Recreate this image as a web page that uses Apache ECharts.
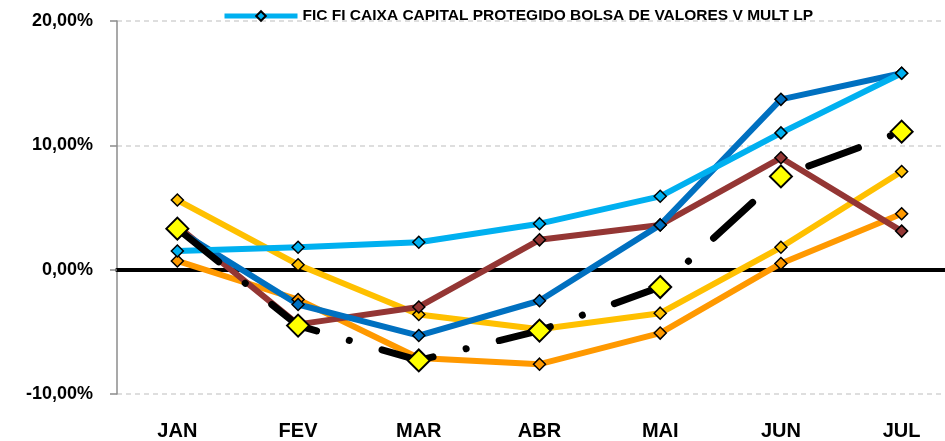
<!DOCTYPE html>
<html>
<head>
<meta charset="utf-8">
<script src="https://cdn.jsdelivr.net/npm/echarts@6/dist/echarts.min.js"></script>
<style>
  html, body { margin: 0; padding: 0; background: #fff; }
  #main { width: 945px; height: 441px; }
</style>
</head>
<body>
<div id="main"></div>
<script>
// monthly returns (%)
const months = ["JAN", "FEV", "MAR", "ABR", "MAI", "JUN", "JUL"];
const fundName = "FIC FI CAIXA CAPITAL PROTEGIDO BOLSA DE VALORES V MULT LP";
const fundValues = [1.5, 1.8, 2.2, 3.7, 5.9, 11.0, 15.8];
const darkBlueValues = [3.2, -2.8, -5.3, -2.5, 3.6, 13.7, 15.8];
const brownValues = [3.5, -4.4, -3.0, 2.4, 3.6, 9.0, 3.1];
const goldValues = [5.6, 0.4, -3.6, -4.8, -3.5, 1.8, 7.9];
const orangeValues = [0.7, -2.4, -7.1, -7.6, -5.1, 0.5, 4.5];
const benchmarkValues = [3.3, -4.5, -7.3, -4.9, -1.4, 7.5, 11.1];
const yMin = -10, yMax = 20, yStep = 10;

const chart = echarts.init(document.getElementById("main"));

const boldFont = { fontFamily: "Liberation Sans", fontWeight: "bold", color: "#000" };

function smallLine(name, data, color) {
  return {
    name: name,
    type: "line",
    data: data,
    symbol: "diamond",
    symbolSize: 12,
    lineStyle: { color: color, width: 6 },
    itemStyle: { color: color, borderColor: "#000", borderWidth: 1.5 },
  };
}

const option = {
  animation: false,
  legend: {
    data: [fundName],
    left: 217,
    top: 3,
    itemWidth: 73,
    itemHeight: 12,
    lineStyle: { width: 5 },
    textStyle: Object.assign({ fontSize: 15.5 }, boldFont),
  },
  // plot area runs past the right edge of the picture, as in the original
  grid: { left: 117, width: 845, top: 21, bottom: 47, outerBoundsMode: "none" },
  xAxis: [
    {
      type: "category",
      data: months,
      position: "bottom",
      axisLine: { show: false, onZero: false },
      axisTick: { show: false },
      axisLabel: Object.assign({ margin: 27, fontSize: 20 }, boldFont),
    },
    {
      type: "category",
      data: months,
      position: "top",
      axisLine: { onZero: true, lineStyle: { color: "#000", width: 4 } },
      axisTick: { inside: true, length: 6, lineStyle: { color: "#000", width: 3 } },
      axisLabel: { show: false },
    },
  ],
  yAxis: {
    type: "value",
    min: yMin,
    max: yMax,
    interval: yStep,
    axisLine: { show: true, lineStyle: { color: "#8c8c8c", width: 1.5 } },
    axisTick: { show: true, length: 7, lineStyle: { color: "#8c8c8c", width: 1.5 } },
    axisLabel: Object.assign({
      margin: 24,
      fontSize: 18,
      formatter: (v) => v.toFixed(2).replace(".", ",") + "%",
    }, boldFont),
    splitLine: { show: true, lineStyle: { color: "#d4d4d4", width: 1.5, type: [5, 4] } },
  },
  series: [
    smallLine("Série 5", orangeValues, "#FF9900"),
    smallLine("Série 4", goldValues, "#FFC000"),
    smallLine("Série 3", brownValues, "#943634"),
    smallLine("Série 2", darkBlueValues, "#0070C0"),
    smallLine(fundName, fundValues, "#00B0F0"),
    {
      name: "Benchmark",
      type: "line",
      data: benchmarkValues,
      symbol: "diamond",
      symbolSize: 22,
      lineStyle: { color: "#000", width: 7, type: [53, 34, 0.1, 34], cap: "round" },
      itemStyle: { color: "#FFFF00", borderColor: "#000", borderWidth: 2 },
    },
  ],
};

chart.setOption(option);
</script>
</body>
</html>
